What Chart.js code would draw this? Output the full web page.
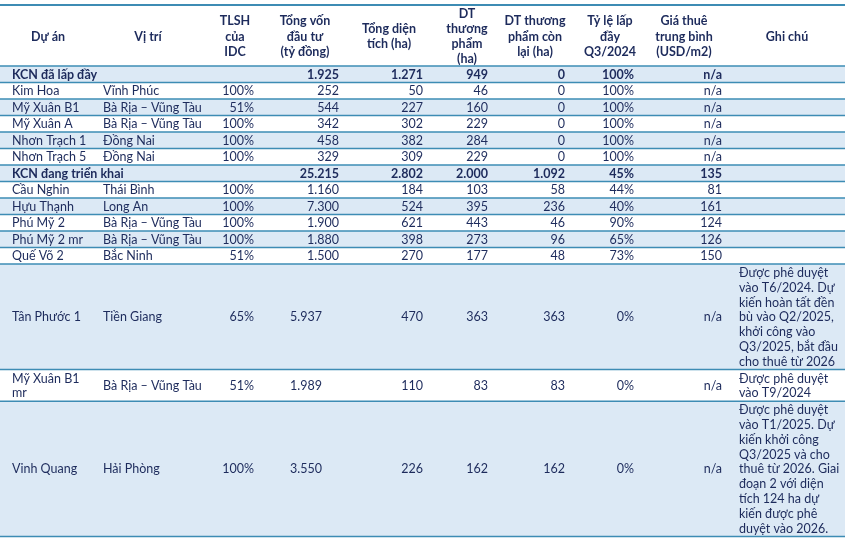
<!DOCTYPE html>
<html>
<head>
<meta charset="utf-8">
<script src="https://cdn.jsdelivr.net/npm/chart.js@4.4.1/dist/chart.umd.min.js"></script>
<style>
  html, body { margin: 0; padding: 0; background: #fff; }
  #wrap { width: 850px; height: 543px; }
</style>
</head>
<body>
<div id="wrap"><canvas id="table-chart" width="850" height="543"></canvas></div>
<script>
// column headers (one entry per line)
const headers = [
  ["Dự án"],
  ["Vị trí"],
  ["TLSH", "của", "IDC"],
  ["Tổng vốn", "đầu tư", "(tỷ đồng)"],
  ["Tổng diện", "tích (ha)"],
  ["DT", "thương", "phẩm", "(ha)"],
  ["DT thương", "phẩm còn", "lại (ha)"],
  ["Tỷ lệ lấp", "đầy", "Q3/2024"],
  ["Giá thuê", "trung bình", "(USD/m2)"],
  ["Ghi chú"],
];

const projects = [
  "KCN đã lấp đầy", "Kim Hoa", "Mỹ Xuân B1", "Mỹ Xuân A", "Nhơn Trạch 1", "Nhơn Trạch 5",
  "KCN đang triển khai", "Cầu Nghin", "Hựu Thạnh", "Phú Mỹ 2", "Phú Mỹ 2 mr", "Quế Võ 2",
  "Tân Phước 1", "Mỹ Xuân B1\nmr", "Vinh Quang",
];
const groupRows = [true, false, false, false, false, false, true, false, false, false, false, false, false, false, false];
const locations = [
  "", "Vĩnh Phúc", "Bà Rịa – Vũng Tàu", "Bà Rịa – Vũng Tàu", "Đồng Nai", "Đồng Nai",
  "", "Thái Bình", "Long An", "Bà Rịa – Vũng Tàu", "Bà Rịa – Vũng Tàu", "Bắc Ninh",
  "Tiền Giang", "Bà Rịa – Vũng Tàu", "Hải Phòng",
];
const ownership = [null, 100, 51, 100, 100, 100, null, 100, 100, 100, 100, 51, 65, 51, 100];
const investment = [1925, 252, 544, 342, 458, 329, 25215, 1160, 7300, 1900, 1880, 1500, 5937, 1989, 3550];
const totalArea = [1271, 50, 227, 302, 382, 309, 2802, 184, 524, 621, 398, 270, 470, 110, 226];
const commercialArea = [949, 46, 160, 229, 284, 229, 2000, 103, 395, 443, 273, 177, 363, 83, 162];
const remainingArea = [0, 0, 0, 0, 0, 0, 1092, 58, 236, 46, 96, 48, 363, 83, 162];
const occupancy = [100, 100, 100, 100, 100, 100, 45, 44, 40, 90, 65, 73, 0, 0, 0];
const rent = [null, null, null, null, null, null, 135, 81, 161, 124, 126, 150, null, null, null];
const notes = [
  [], [], [], [], [], [], [], [], [], [], [], [],
  ["Được phê duyệt", "vào T6/2024. Dự", "kiến hoàn tất đền", "bù vào Q2/2025,", "khởi công vào", "Q3/2025, bắt đầu", "cho thuê từ 2026"],
  ["Được phê duyệt", "vào T9/2024"],
  ["Được phê duyệt", "vào T1/2025. Dự", "kiến khởi công", "Q3/2025 và cho", "thuê từ 2026. Giai", "đoạn 2 với diện", "tích 124 ha dự", "kiến được phê", "duyệt vào 2026."],
];

// layout (table units = pixels of the 850x543 scale)
const tableLeft = 0, tableRight = 845;
const headerTop = 5, headerBottom = 66;
const rowH = 16.5, noteLineH = 14.8;
const headerCenters = [48, 148, 235, 305, 389, 467, 535, 610, 684, 787];
const colLeft = { project: 12, location: 103, note: 739 };
const colRight = { own: 254, inv: 339, invTall: 322, total: 423, comm: 488, rem: 565, occ: 634, rent: 722 };

const fmt = (v) => String(v).replace(/\B(?=(\d{3})+(?!\d))/g, ".");
const pct = (v) => (v === null ? "" : v + "%");

// cumulative row boundaries
const rowTops = [];
let yCursor = headerBottom;
projects.forEach((p, i) => {
  rowTops.push(yCursor);
  const lines = notes[i].length;
  yCursor += lines ? lines * noteLineH + 2 : rowH;
});
rowTops.push(yCursor);

const BAND = "#dce9f5";
const RULE = "#3d8cb4";
const INK = "#1d2b5c";
const FONT = "Lato, 'Open Sans', sans-serif";

const tablePlugin = {
  id: "tablePlugin",
  beforeDatasetsDraw(chart) {
    const { ctx, scales } = chart;
    const X = (v) => scales.x.getPixelForValue(v);
    const Y = (v) => scales.y.getPixelForValue(v);
    ctx.save();

    // row bands
    projects.forEach((p, i) => {
      if (i % 2 === 0) {
        ctx.fillStyle = BAND;
        ctx.fillRect(X(tableLeft), Y(rowTops[i]), X(tableRight) - X(tableLeft), Y(rowTops[i + 1]) - Y(rowTops[i]));
      }
    });

    // rules
    ctx.strokeStyle = RULE;
    ctx.lineWidth = 2;
    ctx.beginPath();
    ctx.moveTo(X(tableLeft), Y(headerTop));
    ctx.lineTo(X(tableRight), Y(headerTop));
    ctx.stroke();
    ctx.lineWidth = 1.5;
    rowTops.forEach((t) => {
      ctx.beginPath();
      ctx.moveTo(X(tableLeft), Y(t));
      ctx.lineTo(X(tableRight), Y(t));
      ctx.stroke();
    });

    // header
    ctx.fillStyle = INK;
    ctx.textBaseline = "middle";
    ctx.textAlign = "center";
    ctx.font = "bold 12.5px " + FONT;
    const headMid = (headerTop + headerBottom) / 2 + 1;
    headers.forEach((lines, c) => {
      lines.forEach((txt, k) => {
        const y = headMid + (k - (lines.length - 1) / 2) * 15.3;
        ctx.fillText(txt, X(headerCenters[c]), Y(y));
      });
    });

    // body
    projects.forEach((name, i) => {
      const mid = (rowTops[i] + rowTops[i + 1]) / 2 + 0.5;
      ctx.font = (groupRows[i] ? "bold " : "") + "12.5px " + FONT;
      ctx.textAlign = "left";
      const nameLines = name.split("\n");
      nameLines.forEach((txt, k) => {
        ctx.fillText(txt, X(colLeft.project), Y(mid + (k - (nameLines.length - 1) / 2) * noteLineH));
      });
      ctx.fillText(locations[i], X(colLeft.location), Y(mid));
      ctx.textAlign = "right";
      ctx.fillText(pct(ownership[i]), X(colRight.own), Y(mid));
      ctx.fillText(fmt(investment[i]), X(notes[i].length ? colRight.invTall : colRight.inv), Y(mid));
      ctx.fillText(fmt(totalArea[i]), X(colRight.total), Y(mid));
      ctx.fillText(fmt(commercialArea[i]), X(colRight.comm), Y(mid));
      ctx.fillText(fmt(remainingArea[i]), X(colRight.rem), Y(mid));
      ctx.fillText(pct(occupancy[i]), X(colRight.occ), Y(mid));
      ctx.fillText(rent[i] === null ? "n/a" : fmt(rent[i]), X(colRight.rent), Y(mid));
      ctx.textAlign = "left";
      notes[i].forEach((txt, k) => {
        ctx.fillText(txt, X(colLeft.note), Y(mid + (k - (notes[i].length - 1) / 2) * noteLineH));
      });
    });
    ctx.restore();
  },
};

const chart = new Chart(document.getElementById("table-chart"), {
  type: "scatter",
  data: { datasets: [{ data: [] }] },
  options: {
    responsive: false,
    devicePixelRatio: 1,
    animation: false,
    layout: { padding: 0 },
    plugins: { legend: { display: false }, tooltip: { enabled: false } },
    scales: {
      x: { type: "linear", display: false, min: 0, max: 850 },
      y: { type: "linear", display: false, min: 0, max: 543, reverse: true },
    },
  },
  plugins: [tablePlugin],
});
</script>
</body>
</html>
